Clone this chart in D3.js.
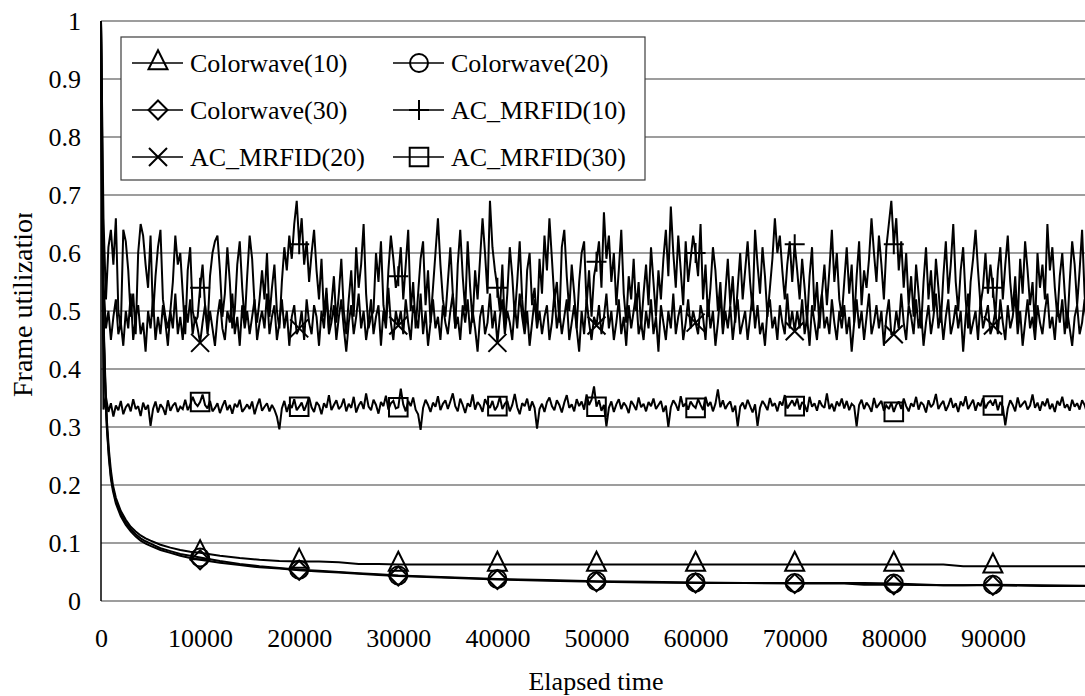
<!DOCTYPE html>
<html>
<head>
<meta charset="utf-8">
<script src="https://cdn.jsdelivr.net/npm/d3@7"></script>
<style>
  body { margin: 0; background: #fff; }
  svg { display: block; }
  svg text { fill: #000; }
</style>
</head>
<body>
<svg id="chart" width="1085" height="696"></svg>
<script>
// ---- data ----
const seriesNames = ["Colorwave(10)", "Colorwave(20)", "Colorwave(30)", "AC_MRFID(10)", "AC_MRFID(20)", "AC_MRFID(30)"];
const yTicks = [0, 0.1, 0.2, 0.3, 0.4, 0.5, 0.6, 0.7, 0.8, 0.9, 1];
const yTickLabels = ["0", "0.1", "0.2", "0.3", "0.4", "0.5", "0.6", "0.7", "0.8", "0.9", "1"];
const xTicks = [0, 10000, 20000, 30000, 40000, 50000, 60000, 70000, 80000, 90000];
const xTickLabels = ["0", "10000", "20000", "30000", "40000", "50000", "60000", "70000", "80000", "90000"];
const xLabel = "Elapsed time";
const yLabel = "Frame utilization";

// Colorwave runs: sampled elapsed times and utilization
const cwTime = [0, 100, 200, 300, 400, 500, 600, 800, 1000, 1200, 1500, 2000, 2500, 3000, 3500, 4000, 4500, 5000,
  6000, 7000, 8000, 9000, 10000, 12000, 14000, 16000, 18000, 20000, 22000, 24000, 26000, 28000, 30000, 35000,
  40000, 45000, 50000, 55000, 60000, 65000, 70000, 75000, 77000, 80000, 85000, 87000, 90000, 95000, 100000];
const cw10 = [1, 0.72, 0.56, 0.46, 0.40, 0.35, 0.31, 0.26, 0.225, 0.20, 0.178, 0.155, 0.14, 0.128, 0.12, 0.113, 0.108, 0.104,
  0.097, 0.092, 0.088, 0.085, 0.083, 0.078, 0.074, 0.071, 0.069, 0.068, 0.068, 0.067, 0.064, 0.064, 0.063, 0.063,
  0.063, 0.063, 0.063, 0.063, 0.063, 0.063, 0.063, 0.063, 0.063, 0.063, 0.063, 0.060, 0.060, 0.060, 0.060];
const cw20 = [1, 0.70, 0.54, 0.45, 0.39, 0.34, 0.30, 0.25, 0.215, 0.195, 0.172, 0.150, 0.135, 0.124, 0.115, 0.108, 0.103, 0.099,
  0.091, 0.086, 0.081, 0.078, 0.075, 0.069, 0.064, 0.060, 0.057, 0.054, 0.052, 0.050, 0.048, 0.046, 0.044, 0.041,
  0.038, 0.036, 0.034, 0.033, 0.032, 0.031, 0.031, 0.031, 0.031, 0.030, 0.027, 0.027, 0.028, 0.027, 0.026];
const cw30 = [1, 0.69, 0.53, 0.44, 0.38, 0.33, 0.295, 0.245, 0.21, 0.19, 0.168, 0.146, 0.131, 0.12, 0.111, 0.104, 0.099, 0.095,
  0.088, 0.083, 0.078, 0.074, 0.071, 0.066, 0.062, 0.058, 0.056, 0.053, 0.051, 0.049, 0.047, 0.045, 0.043, 0.040,
  0.037, 0.035, 0.033, 0.032, 0.031, 0.031, 0.030, 0.030, 0.028, 0.028, 0.027, 0.027, 0.027, 0.026, 0.026];

// AC_MRFID runs: one sample every acStep time units, starting at 0
const acStep = 250;
const ac10 = [
  1.0,0.66,0.52,0.61,0.64,0.58,0.66,0.50,0.47,0.64,0.62,0.57,0.49,0.53,0.46,0.60,0.65,0.63,0.58,0.54,
  0.63,0.49,0.56,0.61,0.64,0.52,0.49,0.47,0.50,0.55,0.63,0.58,0.60,0.53,0.46,0.57,0.61,0.50,0.48,0.49,
  0.54,0.58,0.51,0.47,0.56,0.60,0.62,0.63,0.57,0.49,0.53,0.61,0.55,0.47,0.50,0.58,0.62,0.54,0.48,0.56,
  0.63,0.59,0.51,0.48,0.52,0.57,0.52,0.60,0.49,0.54,0.58,0.50,0.47,0.55,0.61,0.57,0.63,0.59,0.65,0.69,
  0.615,0.66,0.58,0.62,0.55,0.60,0.64,0.57,0.52,0.59,0.49,0.54,0.47,0.51,0.56,0.48,0.53,0.59,0.50,0.46,
  0.52,0.57,0.49,0.61,0.54,0.58,0.65,0.53,0.47,0.49,0.50,0.60,0.55,0.62,0.51,0.48,0.57,0.63,0.59,0.54,
  0.56,0.61,0.52,0.58,0.64,0.50,0.55,0.47,0.53,0.59,0.62,0.51,0.57,0.48,0.54,0.60,0.66,0.58,0.52,0.49,
  0.55,0.61,0.53,0.47,0.58,0.64,0.56,0.50,0.62,0.54,0.48,0.57,0.52,0.59,0.66,0.60,0.53,0.69,0.61,0.57,
  0.54,0.50,0.58,0.47,0.53,0.61,0.56,0.49,0.55,0.62,0.52,0.47,0.57,0.60,0.51,0.54,0.48,0.59,0.53,0.63,
  0.57,0.66,0.59,0.52,0.55,0.48,0.61,0.64,0.56,0.50,0.58,0.53,0.47,0.55,0.60,0.62,0.51,0.57,0.49,0.56,
  0.585,0.62,0.54,0.67,0.59,0.63,0.55,0.60,0.51,0.57,0.64,0.53,0.48,0.56,0.52,0.59,0.50,0.55,0.47,0.53,
  0.58,0.51,0.61,0.55,0.49,0.57,0.52,0.59,0.64,0.56,0.68,0.60,0.54,0.63,0.57,0.51,0.62,0.55,0.59,0.63,
  0.60,0.56,0.65,0.52,0.58,0.49,0.54,0.61,0.57,0.50,0.55,0.47,0.53,0.59,0.51,0.56,0.48,0.54,0.60,0.52,
  0.57,0.62,0.55,0.50,0.64,0.58,0.53,0.61,0.56,0.49,0.54,0.59,0.66,0.60,0.63,0.57,0.52,0.58,0.62,0.55,
  0.615,0.57,0.52,0.59,0.54,0.48,0.56,0.61,0.50,0.55,0.47,0.53,0.58,0.51,0.57,0.64,0.55,0.60,0.52,0.49,
  0.55,0.61,0.53,0.58,0.48,0.56,0.62,0.51,0.57,0.54,0.59,0.66,0.60,0.55,0.63,0.58,0.52,0.61,0.65,0.69,
  0.615,0.66,0.57,0.62,0.54,0.60,0.51,0.56,0.49,0.58,0.53,0.47,0.55,0.61,0.52,0.57,0.50,0.59,0.54,0.48,
  0.56,0.62,0.53,0.58,0.65,0.55,0.50,0.57,0.61,0.52,0.47,0.55,0.59,0.64,0.57,0.51,0.54,0.60,0.53,0.58,
  0.54,0.49,0.57,0.61,0.52,0.58,0.63,0.55,0.50,0.56,0.48,0.59,0.53,0.62,0.57,0.51,0.55,0.47,0.60,0.54,
  0.58,0.52,0.65,0.57,0.61,0.54,0.49,0.56,0.60,0.53,0.47,0.55,0.62,0.58,0.51,0.57,0.64,0.53,0.46,0.55,
  0.52];
const ac20 = [
  1.0,0.55,0.47,0.50,0.45,0.49,0.52,0.46,0.48,0.44,0.50,0.47,0.53,0.45,0.49,0.51,0.46,0.48,0.43,0.50,
  0.47,0.52,0.45,0.49,0.46,0.51,0.48,0.44,0.50,0.47,0.53,0.46,0.49,0.45,0.51,0.48,0.52,0.46,0.49,0.47,
  0.445,0.48,0.51,0.46,0.50,0.47,0.44,0.49,0.52,0.47,0.45,0.50,0.48,0.53,0.46,0.49,0.44,0.51,0.47,0.50,
  0.46,0.49,0.52,0.45,0.48,0.50,0.47,0.53,0.46,0.49,0.51,0.45,0.48,0.52,0.47,0.50,0.44,0.49,0.51,0.46,
  0.47,0.50,0.45,0.52,0.48,0.46,0.51,0.49,0.44,0.50,0.47,0.53,0.46,0.48,0.51,0.45,0.49,0.52,0.47,0.43,
  0.48,0.51,0.46,0.49,0.53,0.47,0.50,0.45,0.48,0.52,0.46,0.49,0.51,0.44,0.50,0.47,0.54,0.48,0.45,0.50,
  0.475,0.50,0.46,0.52,0.48,0.45,0.51,0.49,0.47,0.53,0.46,0.50,0.44,0.48,0.52,0.47,0.49,0.45,0.51,0.48,
  0.46,0.50,0.53,0.47,0.49,0.45,0.51,0.48,0.52,0.46,0.50,0.47,0.43,0.49,0.51,0.46,0.48,0.53,0.47,0.50,
  0.445,0.49,0.52,0.46,0.50,0.48,0.45,0.51,0.47,0.53,0.49,0.46,0.50,0.44,0.48,0.52,0.47,0.50,0.46,0.49,
  0.51,0.45,0.48,0.53,0.47,0.50,0.46,0.49,0.52,0.45,0.48,0.51,0.47,0.43,0.50,0.46,0.52,0.48,0.45,0.49,
  0.475,0.51,0.46,0.49,0.53,0.47,0.50,0.45,0.48,0.52,0.46,0.49,0.44,0.51,0.47,0.50,0.53,0.46,0.48,0.45,
  0.50,0.47,0.52,0.46,0.49,0.43,0.51,0.48,0.45,0.50,0.47,0.53,0.46,0.49,0.51,0.45,0.48,0.52,0.47,0.50,
  0.48,0.46,0.51,0.49,0.45,0.52,0.47,0.50,0.44,0.48,0.53,0.46,0.50,0.47,0.51,0.45,0.49,0.52,0.46,0.48,
  0.50,0.45,0.49,0.53,0.47,0.51,0.46,0.48,0.44,0.50,0.52,0.47,0.49,0.45,0.51,0.48,0.46,0.53,0.47,0.50,
  0.465,0.50,0.47,0.52,0.46,0.49,0.44,0.51,0.48,0.45,0.50,0.53,0.47,0.49,0.46,0.52,0.48,0.45,0.50,0.47,
  0.51,0.46,0.49,0.43,0.48,0.52,0.47,0.50,0.45,0.49,0.53,0.46,0.48,0.51,0.47,0.50,0.44,0.49,0.52,0.46,
  0.46,0.50,0.47,0.53,0.48,0.45,0.51,0.49,0.46,0.52,0.47,0.50,0.44,0.48,0.51,0.46,0.49,0.53,0.47,0.50,
  0.45,0.49,0.52,0.46,0.48,0.51,0.47,0.50,0.43,0.49,0.53,0.46,0.48,0.50,0.45,0.52,0.47,0.49,0.51,0.46,
  0.475,0.50,0.46,0.52,0.48,0.45,0.51,0.47,0.49,0.53,0.46,0.50,0.44,0.48,0.52,0.47,0.49,0.45,0.51,0.48,
  0.46,0.50,0.53,0.47,0.49,0.45,0.51,0.48,0.52,0.46,0.50,0.47,0.44,0.49,0.51,0.46,0.48,0.52,0.47,0.50,
  0.48];
const ac30 = [
  1.0,0.330,0.352,0.326,0.341,0.318,0.337,0.329,0.345,0.322,0.334,0.340,0.327,0.348,0.331,0.336,0.319,0.342,0.330,0.338,
  0.302,0.331,0.344,0.325,0.339,0.333,0.321,0.346,0.328,0.337,0.342,0.326,0.335,0.331,0.347,0.329,0.338,0.352,0.341,0.336,
  0.343,0.356,0.338,0.332,0.345,0.327,0.333,0.341,0.324,0.336,0.346,0.329,0.338,0.323,0.340,0.334,0.347,0.326,0.332,0.339,
  0.331,0.344,0.322,0.337,0.349,0.328,0.335,0.341,0.327,0.338,0.330,0.318,0.296,0.332,0.345,0.326,0.339,0.333,0.348,0.329,
  0.335,0.342,0.328,0.339,0.351,0.334,0.326,0.343,0.337,0.322,0.341,0.333,0.355,0.329,0.338,0.346,0.331,0.336,0.349,0.327,
  0.340,0.333,0.352,0.325,0.337,0.344,0.331,0.358,0.335,0.329,0.347,0.338,0.323,0.343,0.336,0.354,0.330,0.341,0.345,0.332,
  0.334,0.366,0.339,0.327,0.345,0.336,0.351,0.330,0.322,0.295,0.333,0.347,0.338,0.326,0.342,0.335,0.353,0.329,0.340,0.346,
  0.331,0.344,0.358,0.336,0.327,0.349,0.338,0.324,0.341,0.335,0.356,0.330,0.343,0.337,0.326,0.348,0.339,0.333,0.345,0.329,
  0.336,0.352,0.331,0.340,0.345,0.327,0.338,0.357,0.334,0.322,0.341,0.336,0.349,0.328,0.344,0.333,0.297,0.331,0.340,0.326,
  0.343,0.351,0.336,0.329,0.346,0.338,0.325,0.342,0.355,0.333,0.339,0.327,0.348,0.336,0.344,0.330,0.356,0.338,0.347,0.370,
  0.335,0.346,0.328,0.338,0.301,0.333,0.344,0.326,0.339,0.348,0.331,0.342,0.336,0.324,0.345,0.338,0.329,0.351,0.334,0.340,
  0.327,0.343,0.336,0.349,0.331,0.338,0.345,0.326,0.337,0.300,0.334,0.346,0.339,0.328,0.353,0.335,0.341,0.330,0.344,0.337,
  0.333,0.348,0.338,0.329,0.352,0.336,0.343,0.327,0.340,0.365,0.334,0.346,0.331,0.339,0.344,0.326,0.337,0.301,0.335,0.342,
  0.331,0.347,0.336,0.325,0.339,0.302,0.333,0.345,0.338,0.329,0.350,0.336,0.341,0.327,0.344,0.337,0.355,0.332,0.339,0.346,
  0.336,0.349,0.330,0.343,0.338,0.326,0.352,0.335,0.341,0.328,0.346,0.337,0.333,0.358,0.331,0.340,0.327,0.344,0.336,0.349,
  0.332,0.345,0.329,0.340,0.336,0.301,0.338,0.347,0.331,0.342,0.336,0.326,0.350,0.333,0.339,0.345,0.328,0.337,0.331,0.342,
  0.326,0.338,0.344,0.331,0.349,0.336,0.327,0.341,0.335,0.352,0.330,0.343,0.338,0.325,0.346,0.334,0.340,0.357,0.331,0.339,
  0.345,0.328,0.337,0.350,0.333,0.341,0.326,0.344,0.336,0.353,0.331,0.339,0.347,0.328,0.342,0.336,0.350,0.332,0.341,0.345,
  0.337,0.348,0.329,0.343,0.335,0.303,0.332,0.346,0.338,0.327,0.351,0.334,0.340,0.345,0.330,0.337,0.356,0.333,0.342,0.328,
  0.344,0.336,0.349,0.331,0.340,0.326,0.345,0.337,0.352,0.333,0.339,0.328,0.347,0.335,0.341,0.330,0.346,0.338,0.324,0.336,
  0.334];

// ---- layout ----
const svg = d3.select("#chart");
const W = 1085, H = 696;
const plot = { left: 101, top: 21, bottom: 601, right: 1092 };
const FONT = 26;
const SERIF = "'Liberation Serif', 'Times New Roman', serif";

const x = d3.scaleLinear().domain([0, 100000]).range([plot.left, plot.right]);
const y = d3.scaleLinear().domain([0, 1]).range([plot.bottom, plot.top]);

const acTime = ac10.map((_, i) => i * acStep);
const series = [
  { name: seriesNames[0], t: cwTime, v: cw10, marker: "triangle" },
  { name: seriesNames[1], t: cwTime, v: cw20, marker: "circle" },
  { name: seriesNames[2], t: cwTime, v: cw30, marker: "diamond" },
  { name: seriesNames[3], t: acTime, v: ac10, marker: "plus" },
  { name: seriesNames[4], t: acTime, v: ac20, marker: "cross" },
  { name: seriesNames[5], t: acTime, v: ac30, marker: "square" }
];

// marker outlines, centred on the data point
const markerPaths = {
  triangle: "M0,-12.7L9.5,6.3L-9.5,6.3Z",
  circle: d3.arc()({ innerRadius: 0, outerRadius: 9, startAngle: 0, endAngle: 2 * Math.PI }),
  diamond: "M0,-9.5L9.5,0L0,9.5L-9.5,0Z",
  plus: "M-10,0H10M0,-10V10",
  cross: "M-9,-9L9,9M-9,9L9,-9",
  square: "M-9.3,-9.3H9.3V9.3H-9.3Z"
};

// horizontal gridlines
svg.append("g").selectAll("line").data(yTicks).join("line")
  .attr("x1", plot.left).attr("x2", W)
  .attr("y1", d => y(d)).attr("y2", d => y(d))
  .attr("stroke", "#3c3c3c").attr("stroke-width", 1.2);

// y axis
const yAxis = svg.append("g").attr("transform", `translate(${plot.left},0)`)
  .call(d3.axisLeft(y).tickValues(yTicks).tickSize(0).tickPadding(20)
    .tickFormat((d, i) => yTickLabels[i]));
yAxis.attr("font-family", SERIF).attr("font-size", FONT);
yAxis.select(".domain").remove();

// x axis
const xAxis = svg.append("g").attr("transform", `translate(0,${plot.bottom})`)
  .call(d3.axisBottom(x).tickValues(xTicks).tickSize(0).tickPadding(27.5)
    .tickFormat((d, i) => xTickLabels[i]));
xAxis.attr("font-family", SERIF).attr("font-size", FONT);
xAxis.select(".domain").remove();

// left axis line
svg.append("line").attr("x1", plot.left).attr("x2", plot.left)
  .attr("y1", plot.top).attr("y2", plot.bottom)
  .attr("stroke", "#000").attr("stroke-width", 1.5);

// data lines
const line = d3.line().x(d => x(d[0])).y(d => y(d[1]));
const lineG = svg.append("g");
series.forEach(s => {
  const pts = s.t.map((t, i) => [t, s.v[i]]);
  lineG.append("path").datum(pts).attr("d", line)
    .attr("fill", "none").attr("stroke", "#000").attr("stroke-width", 2)
    .attr("stroke-linejoin", "miter").attr("stroke-miterlimit", 2);
});

// markers every 10000 time units
const markG = svg.append("g");
series.forEach(s => {
  const pts = s.t.map((t, i) => [t, s.v[i]])
    .filter(d => d[0] > 0 && d[0] < 100000 && d[0] % 10000 === 0);
  markG.selectAll(null).data(pts).join("path")
    .attr("transform", d => `translate(${x(d[0])},${y(d[1])})`)
    .attr("d", markerPaths[s.marker])
    .attr("fill", "none").attr("stroke", "#000").attr("stroke-width", 2);
});

// legend
const legend = svg.append("g").attr("font-family", SERIF);
legend.append("rect").attr("x", 121).attr("y", 37).attr("width", 524).attr("height", 143)
  .attr("fill", "#fff").attr("stroke", "#3c3c3c").attr("stroke-width", 1.2);
const colX = [132, 393];
const rowY = [63, 110, 157];
series.forEach((s, i) => {
  const cx = colX[i % 2], cy = rowY[Math.floor(i / 2)];
  const g = legend.append("g").attr("transform", `translate(${cx},${cy})`);
  g.append("line").attr("x1", 0).attr("x2", 51).attr("y1", 0).attr("y2", 0)
    .attr("stroke", "#000").attr("stroke-width", 1.6);
  g.append("path").attr("transform", "translate(26,0)").attr("d", markerPaths[s.marker])
    .attr("fill", "none").attr("stroke", "#000").attr("stroke-width", 2);
  g.append("text").attr("x", 58).attr("y", 9).attr("font-size", FONT).text(s.name);
});

// axis titles
svg.append("text").attr("x", 596).attr("y", 690).attr("text-anchor", "middle")
  .attr("font-family", SERIF).attr("font-size", FONT).text(xLabel);

// the y title sits in a fixed box that trims its far end
const defs = svg.append("defs");
defs.append("clipPath").attr("id", "ytitle-clip").attr("clipPathUnits", "userSpaceOnUse")
  .append("rect").attr("x", 0).attr("y", 213).attr("width", 60).attr("height", 300);
svg.append("g").attr("clip-path", "url(#ytitle-clip)")
  .append("text")
  .attr("transform", "translate(31.5,397) rotate(-90)")
  .attr("text-anchor", "start").attr("font-family", SERIF).attr("font-size", 28).text(yLabel);
</script>
</body>
</html>
